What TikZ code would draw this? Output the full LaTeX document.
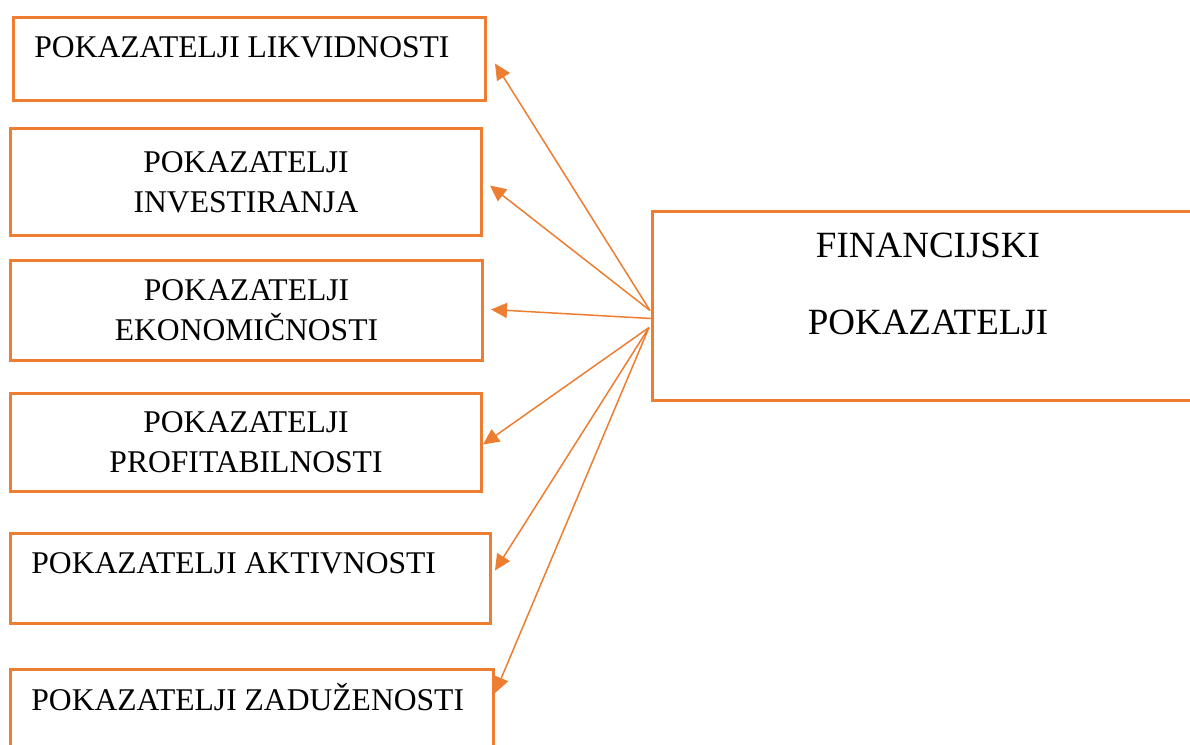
\documentclass[tikz,border=0pt]{standalone}
\usepackage{fontspec}
\setmainfont{Liberation Serif}
\usetikzlibrary{positioning,calc,arrows.meta}

\definecolor{narancasta}{HTML}{ED7D31}

\tikzset{
	okvir/.style={draw=narancasta, line width=1.5pt, inner sep=0pt, anchor=north west, align=center,
		font=\fontsize{15.8}{20}\selectfont},
	natpis/.style={inner sep=0pt, font=\fontsize{15.8}{20}\selectfont},
	strelica/.style={draw=narancasta, line width=0.75pt, -{Triangle[length=8pt,width=7.5pt]}}
}

\begin{document}
\begin{tikzpicture}[x=0.5pt,y=-0.5pt]

		\useasboundingbox (0,0) rectangle (1190,745);
		\clip (0,0) rectangle (1190,745);

		%the six groups of ratios
		\node[okvir, minimum width=236pt, minimum height=41.5pt] (likv) at (12,16) {};
		\node[natpis, anchor=base west] (likv-t) at (34,57) {POKAZATELJI LIKVIDNOSTI};

		\node[okvir, minimum width=235.5pt, minimum height=53.5pt] (inv) at (9,127) {POKAZATELJI\\INVESTIRANJA};
		\node[okvir, minimum width=236pt, minimum height=50pt] (ekon) at (9,259) {POKAZATELJI\\EKONOMIČNOSTI};
		\node[okvir, minimum width=235.5pt, minimum height=49pt] (prof) at (9,392) {POKAZATELJI\\PROFITABILNOSTI};

		\node[okvir, minimum width=240pt, minimum height=45pt] (akt) at (9,532) {};
		\node[natpis, anchor=base west] (akt-t) at (31,573) {POKAZATELJI AKTIVNOSTI};

		\node[okvir, minimum width=241.5pt, minimum height=50pt] (zad) at (9,668) {};
		\node[natpis, anchor=base west] (zad-t) at (31,710) {POKAZATELJI ZADUŽENOSTI};

		%the main box
		\node[okvir, minimum width=277pt, minimum height=94.5pt] (fin) at (651,210) {};
		\node[natpis, anchor=north, align=center, font=\fontsize{18.5}{38.5}\selectfont] (fin-t) at (928,233) {FINANCIJSKI\\POKAZATELJI};

		% where the arrows leave the main box
		\coordinate (izvor1) at ($(fin.west)+(-1,4.5)$);
		\coordinate (izvor2) at ($(fin.west)+(0,12.5)$);
		\coordinate (izvor3) at ($(fin.west)+(-2,21.5)$);

		\draw[strelica] (izvor1) -- ($(likv.east)+(8,4.5)$);
		\draw[strelica] (izvor1) -- ($(inv.east)+(7,3.5)$);
		\draw[strelica] (izvor2) -- ($(ekon.east)+(7,-1)$);
		\draw[strelica] (izvor3) -- ($(prof.east)+(0,2)$);
		\draw[strelica] (izvor3) -- ($(akt.east)+(3,-8)$);
		\draw[strelica] (izvor3) -- ($(zad.north east)+(0,25)$);

	\end{tikzpicture}
\end{document}
